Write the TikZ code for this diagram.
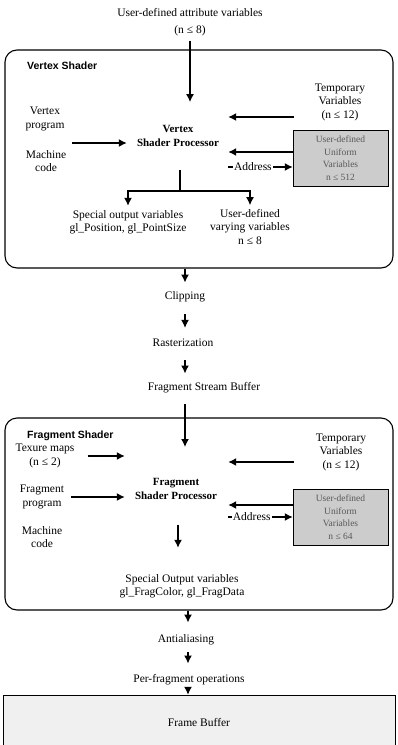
\documentclass[tikz,border=0pt]{standalone}
\usepackage{fontspec}
\setmainfont{Liberation Serif}
\setsansfont{Liberation Sans}
\usetikzlibrary{positioning}
\usetikzlibrary{arrows.meta}

\tikzset{
  txt/.style={align=center, inner sep=1pt, font=\fontsize{11.5}{13.5}\selectfont},
  bold/.style={txt, font=\fontsize{11}{14}\selectfont\bfseries},
  title/.style={anchor=west, inner sep=1pt, font=\fontsize{10.5}{12}\selectfont\sffamily\bfseries},
  arr/.style={line width=1.4pt, -{Latex[length=8pt,width=8pt]}},
  stem/.style={line width=1.4pt},
  shader/.style={draw, line width=1.1pt, rounded corners=12pt},
  unif/.style={draw, fill=gray!40, text=black!65, minimum width=95pt, minimum height=56pt,
    align=center, inner sep=1pt, font=\fontsize{9.5}{12.5}\selectfont},
  fb/.style={draw, fill=gray!12, minimum width=392pt, minimum height=54pt,
    inner sep=1pt, font=\fontsize{11.5}{13.5}\selectfont}
}

\begin{document}
\begin{tikzpicture}[x=1pt,y=-1pt]
\useasboundingbox (0,0) rectangle (398,745);
\node[txt] (attr) at (190,22) {User-defined attribute variables\\[3pt](n ≤ 8)};
%%%%%%%%%%%%%%%%%%%%%%%%%%%%%%%%%
% vertex shader
\node[shader, minimum width=388pt, minimum height=218pt] (vsh) at (199,159) {};
\node[title] (vtitle) at (26,66) {Vertex Shader};
\node[txt] (vprog) at (45,119) {Vertex\\program};
\node[txt] (vmach) at (46,161) {Machine\\code};
\node[bold] (vproc) at (178,136) {Vertex\\Shader Processor};
\node[txt] (vtemp) at (340,102) {Temporary\\Variables\\(n ≤ 12)};
\node[unif] (vunif) at (340.5,158) {User-defined\\Uniform\\Variables\\n ≤ 512};
\node[txt] (vspec) at (128,222) {Special output variables\\gl\_Position, gl\_PointSize};
\node[txt] (vvary) at (250,227) {User-defined\\varying variables\\n ≤ 8};
\coordinate (vcode) at (72,143);
\coordinate (vtmp) at (294,117);
\coordinate (vstem) at (180,170);
\coordinate (vsplit) at (180,191);
\draw[arr, shorten <=4pt, shorten >=22pt] (attr.south) -- (attr.south |- vproc.north);
\draw[arr, shorten >=9pt] (vcode) -- (vcode -| vproc.west);
\draw[arr, shorten >=8pt] (vtmp) -- (vtmp -| vproc.east);
\draw[arr, shorten >=8pt] ([yshift=6pt]vunif.west) -- ([yshift=6pt]vunif.west -| vproc.east);
\draw[arr, shorten <=8pt] ([yshift=-9pt]vunif.west -| vproc.east) -- ([yshift=-9pt]vunif.west)
  node[txt, pos=0.45, fill=white] {Address};
\draw[stem] (vstem) -- (vsplit);
\draw[arr, shorten >=3pt] (vsplit) -| (vspec);
\draw[arr, shorten >=3pt] (vsplit) -| (vvary);
%%%%%%%%%%%%%%%%%%%%%%%%%%%%%%%%%
% between the shaders
\node[txt] (clip) at (185,297) {Clipping};
\node[txt] (raster) at (183,343) {Rasterization};
\node[txt] (fsb) at (204,388) {Fragment Stream Buffer};
\draw[arr, shorten >=8pt] (vsh.south -| clip) -- (clip);
\draw[arr, shorten <=11pt, shorten >=10pt] (clip) -- (clip |- raster.north);
\draw[arr, shorten <=12pt, shorten >=8pt] (raster.south -| clip) -- (clip |- fsb.north);
%%%%%%%%%%%%%%%%%%%%%%%%%%%%%%%%%
% fragment shader
\node[shader, minimum width=388pt, minimum height=192pt] (fsh) at (199,514) {};
\node[title] (ftitle) at (26,436) {Fragment Shader};
\node[txt] (ftex) at (45,456) {Texure maps\\(n ≤ 2)};
\node[txt] (fprog) at (42,497) {Fragment\\program};
\node[txt] (fmach) at (42,537) {Machine\\code};
\node[bold] (fproc) at (176,489) {Fragment\\Shader Processor};
\node[txt] (ftemp) at (341,452) {Temporary\\Variables\\(n ≤ 12)};
\node[unif] (funif) at (340.5,517) {User-defined\\Uniform\\Variables\\n ≤ 64};
\node[txt] (fout) at (182,586) {Special Output variables\\gl\_FragColor, gl\_FragData};
\coordinate (fin) at (185,447);
\coordinate (ftmp) at (294,462);
\coordinate (fdown) at (178,0);
\draw[arr, shorten <=10pt] (fsb.south -| fin) -- (fin);
\draw[arr, shorten <=12pt, shorten >=9pt] (ftex.east) -- (ftex.east -| fproc.west);
\draw[arr, shorten <=6pt, shorten >=9pt] (fprog.east) -- (fprog.east -| fproc.west);
\draw[arr, shorten <=24pt, shorten >=25pt] (fproc.south -| fdown) -- (fout.north -| fdown);
\draw[arr, shorten >=10pt] (ftmp) -- (ftmp -| fproc.east);
\draw[arr, shorten >=10pt] ([yshift=12pt]funif.west) -- ([yshift=12pt]funif.west -| fproc.east);
\draw[arr, shorten <=10pt] (funif.west -| fproc.east) -- (funif.west)
  node[txt, pos=0.45, fill=white] {Address};
%%%%%%%%%%%%%%%%%%%%%%%%%%%%%%%%%
% after the fragment shader
\node[txt] (anti) at (186,640) {Antialiasing};
\node[txt] (perfrag) at (189,680) {Per-fragment operations};
\node[fb] (fbuf) at (199,722) {Frame Buffer};
\coordinate (flow) at (188,0);
\draw[arr, shorten >=11pt] (fsh.south -| flow) -- (anti.north -| flow);
\draw[arr, shorten <=6pt, shorten >=10pt] (anti.south -| flow) -- (perfrag.north -| flow);
\draw[arr, shorten <=3pt] (perfrag.south -| flow) -- (fbuf.north -| flow);
\end{tikzpicture}
\end{document}
